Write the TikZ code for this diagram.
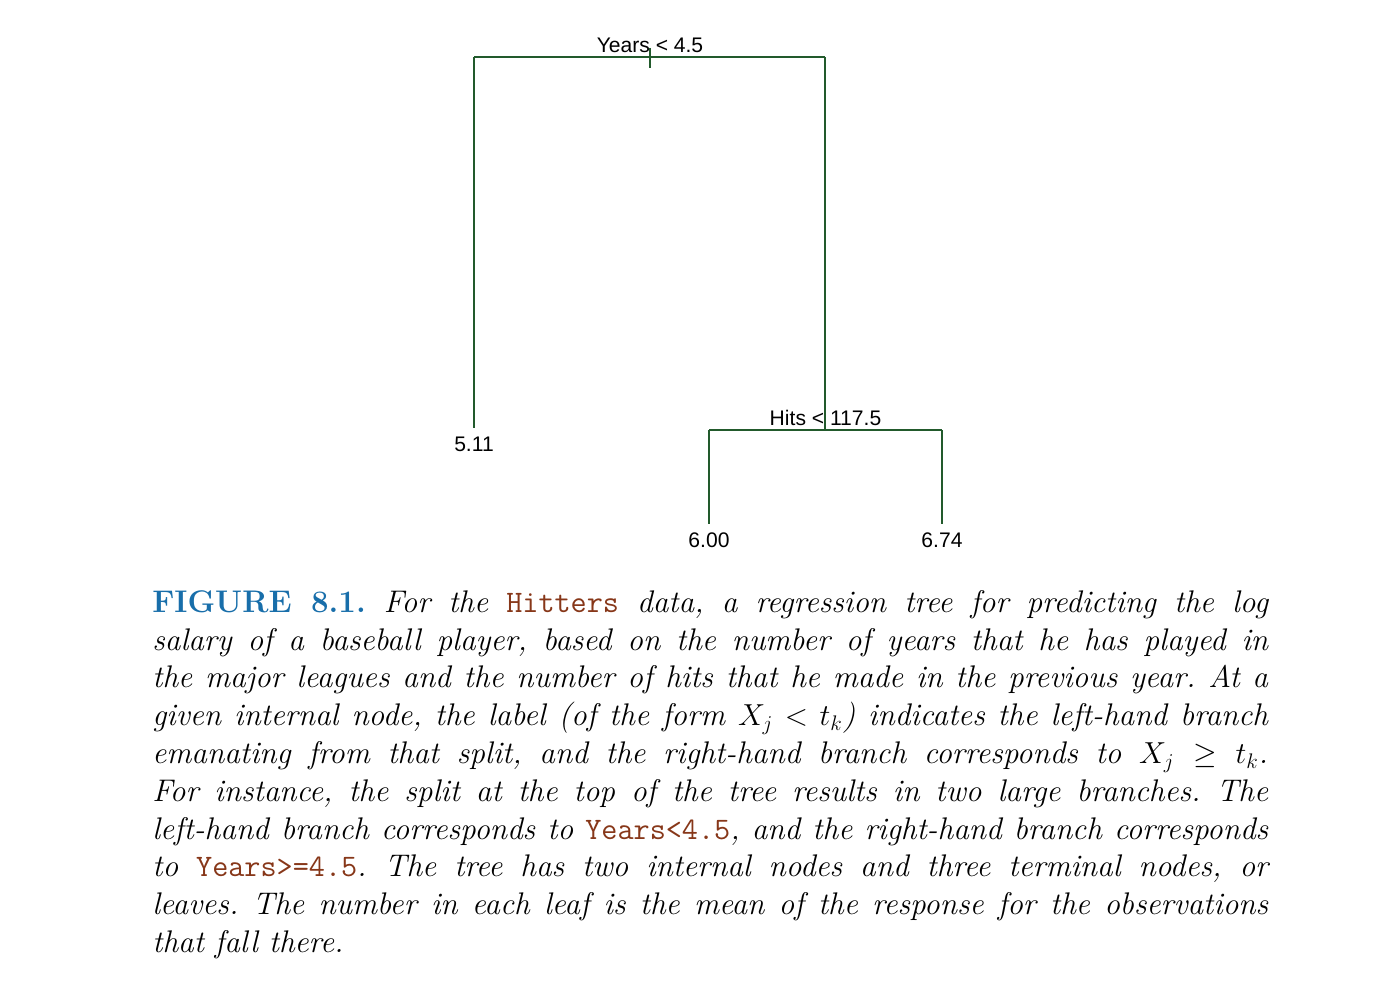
\documentclass[tikz,border=0pt]{standalone}
\usepackage{amsmath,amssymb}
\usepackage{fontspec}
\usepackage{tikz}
\newfontfamily\treefont{Liberation Sans}
\definecolor{branchgreen}{RGB}{34,90,44}
\definecolor{figblue}{RGB}{24,110,170}
\definecolor{codebrown}{RGB}{135,55,25}
\tikzset{
  branch/.style={draw=branchgreen, line width=0.6pt},
  splitlabel/.style={font=\treefont\fontsize{12}{14}\selectfont, inner sep=0pt, anchor=base},
  leaf/.style={font=\treefont\fontsize{12}{14}\selectfont, inner sep=0pt, outer sep=5pt},
  caption/.style={font=\fontsize{17.8}{21.5}\selectfont\itshape, inner sep=0pt,
    text width=22.32cm, align=justify, anchor=north west}
}
\newcommand{\figcode}[1]{\textcolor{codebrown}{\upshape\ttfamily #1}}
\begin{document}
\begin{tikzpicture}[line cap=butt, line join=miter, x=0.02cm, y=-0.02cm]
                \useasboundingbox (0, 0) rectangle (1393, 1000);

                % Split 1
                \coordinate (yrsL) at (474, 57);
                \coordinate (yrsR) at (825, 57);
                \coordinate (yrsTop) at (650, 48);
                \coordinate (yrsBot) at (650, 68);
                \node[splitlabel] (yrs) at (650, 53) {Years < 4.5};
                \draw[branch] (yrsL) -- (yrsR);
                \draw[branch] (yrsTop) -- (yrsBot);

                % Split 2
                \coordinate (hitsL) at (709, 430);
                \coordinate (hitsC) at (825, 430);
                \coordinate (hitsR) at (942, 430);
                \node[splitlabel] (hits) at (825.5, 425) {Hits < 117.5};
                \draw[branch] (hitsL) -- (hitsR);
                \draw[branch] (yrsR) -- (hitsC);

                % Leaves
                \node[leaf] (l511) at (474, 444) {5.11};
                \node[leaf] (l600) at (709, 540) {6.00};
                \node[leaf] (l674) at (942, 540) {6.74};
                \draw[branch] (yrsL) -- (l511.north);
                \draw[branch] (hitsL) -- (l600.north);
                \draw[branch] (hitsR) -- (l674.north);

                % Caption
                \node[caption] (cap) at (152, 590) {\hyphenpenalty=10000 \frenchspacing
                  {\upshape\bfseries\color{figblue}FIGURE 8.1.} For the \figcode{Hitters} data, a regression tree for predicting the log\linebreak
                  salary of a baseball player, based on the number of years that he has played in\linebreak
                  the major leagues and the number of hits that he made in the previous year. At a\linebreak
                  given internal node, the label (of the form $X_j < t_k$) indicates the left-hand branch\linebreak
                  emanating from that split, and the right-hand branch corresponds to $X_j \geq t_k$.\linebreak
                  For instance, the split at the top of the tree results in two large branches. The\linebreak
                  left-hand branch corresponds to \figcode{Years<4.5}, and the right-hand branch corresponds\linebreak
                  to \figcode{Years>=4.5}. The tree has two internal nodes and three terminal nodes, or\linebreak
                  leaves. The number in each leaf is the mean of the response for the observations\linebreak
                  that fall there.};
            \end{tikzpicture}
\end{document}
